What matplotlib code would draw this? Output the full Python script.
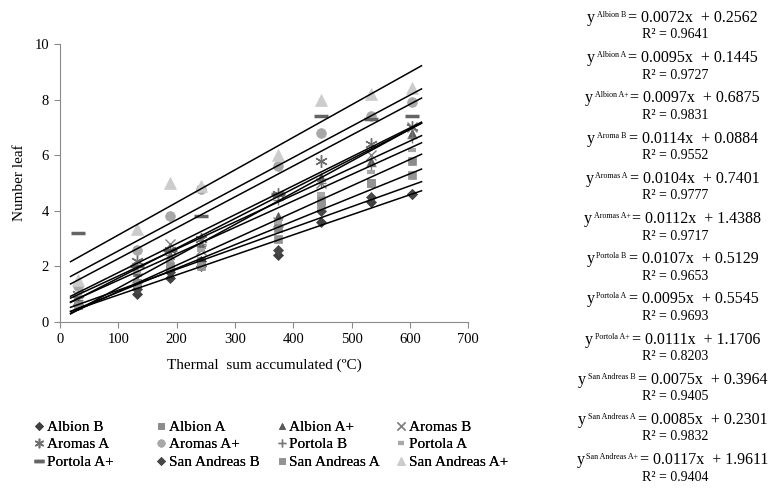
import numpy as np
import matplotlib
matplotlib.use("Agg")
import matplotlib.pyplot as plt

plt.rcParams['font.family'] = ['Liberation Serif', 'DejaVu Serif']

# thermal sum at each sampling date
x_pts = [30, 132, 189, 241, 373, 447, 533, 604]

names = ["Albion B", "Albion A", "Albion A+", "Aromas B", "Aromas A", "Aromas A+",
         "Portola B", "Portola A", "Portola A+", "San Andreas B", "San Andreas A",
         "San Andreas A+"]
# superscripts as printed in the equations
eq_names = ["Albion B", "Albion A", "Albion A+", "Aroma B", "Aromas A", "Aromas A+",
            "Portola B", "Portola A", "Portola A+", "San Andreas B", "San Andreas A",
            "San Andreas A+"]

albion_b = [0.6, 1.0, 1.6, 2.0, 2.4, 3.6, 4.3, 4.6]
albion_a = [0.6, 1.4, 1.9, 2.2, 3.4, 4.4, 5.0, 5.8]
albion_ap = [1.0, 1.8, 2.4, 2.8, 3.8, 5.2, 5.8, 6.8]
aromas_b = [0.8, 1.6, 2.8, 2.6, 3.6, 5.0, 6.0, 7.0]
aromas_a = [1.0, 2.2, 2.6, 3.0, 4.6, 5.8, 6.4, 7.0]
aromas_ap = [1.3, 2.6, 3.8, 4.8, 5.6, 6.8, 7.4, 7.9]
portola_b = [0.8, 2.0, 2.4, 2.8, 4.4, 5.0, 5.6, 6.6]
portola_a = [1.0, 1.8, 2.2, 2.6, 3.6, 4.6, 5.4, 6.2]
portola_ap = [3.2, 2.0, 2.6, 3.8, 4.6, 7.4, 7.3, 7.4]
sanandreas_b = [0.6, 1.2, 1.8, 2.2, 2.6, 4.0, 4.5, 4.6]
sanandreas_a = [0.6, 1.4, 2.0, 2.0, 3.0, 4.2, 5.0, 5.3]
sanandreas_ap = [1.5, 3.35, 5.0, 4.9, 6.0, 8.0, 8.2, 8.4]

series = [albion_b, albion_a, albion_ap, aromas_b, aromas_a, aromas_ap,
          portola_b, portola_a, portola_ap, sanandreas_b, sanandreas_a, sanandreas_ap]

# fitted equations shown on the right
slopes = [0.0072, 0.0095, 0.0097, 0.0114, 0.0104, 0.0112,
          0.0107, 0.0095, 0.0111, 0.0075, 0.0085, 0.0117]
intercepts = [0.2562, 0.1445, 0.6875, 0.0884, 0.7401, 1.4388,
              0.5129, 0.5545, 1.1706, 0.3964, 0.2301, 1.9611]
r2 = ["0.9641", "0.9727", "0.9831", "0.9552", "0.9777", "0.9717",
      "0.9653", "0.9693", "0.8203", "0.9405", "0.9832", "0.9404"]

styles = [
    dict(marker="D", color="#3f3f3f", ms=5),
    dict(marker="s", color="#8c8c8c", ms=6),
    dict(marker="^", color="#5a5a5a", ms=6),
    dict(marker="x", color="#7f7f7f", ms=7, mew=1),
    dict(marker=(6, 2, 0), color="#6e6e6e", ms=9, mew=1),
    dict(marker="o", color="#a8a8a8", ms=7),
    dict(marker="+", color="#7a7a7a", ms=7, mew=1),
    dict(marker="_", color="#a8a8a8", ms=6, mew=3),
    dict(marker="_", color="#646464", ms=10, mew=2.5),
    dict(marker="D", color="#474747", ms=5),
    dict(marker="s", color="#939393", ms=6),
    dict(marker="^", color="#cccccc", ms=8),
]

fig = plt.figure(figsize=(7.7, 4.88), dpi=100)
ax = fig.add_axes([0.078, 0.340, 0.530, 0.570])

handles = []
for vals, st, nm in zip(series, styles, names):
    h, = ax.plot(x_pts, vals, linestyle="none", marker=st["marker"], color=st["color"],
                 markersize=st["ms"], markeredgewidth=st.get("mew", 0.5), label=nm)
    handles.append(h)

xl = np.array([18, 620])
for m, b in zip(slopes, intercepts):
    ax.plot(xl, m * xl + b, color="black", lw=1.1)

ax.set_xlim(0, 700)
ax.set_ylim(0, 10)
ax.set_xticks(range(0, 701, 100))
ax.set_yticks(range(0, 11, 2))
for s in ["top", "right"]:
    ax.spines[s].set_visible(False)
for s in ["left", "bottom"]:
    ax.spines[s].set_color("#8a8a8a")
ax.tick_params(direction="out", length=4, color="#8a8a8a", labelsize=10.5, pad=4)
ax.set_xlabel("Thermal  sum accumulated (ºC)", fontsize=11, labelpad=9)
ax.set_ylabel("Number leaf", fontsize=11, labelpad=6)

# legend: four columns, three rows (row-major order)
col_x = [0.045, 0.203, 0.360, 0.515]
for c in range(4):
    hs = [handles[c + 4 * r] for r in range(3)]
    lg = fig.legend(handles=hs, labels=[h.get_label() for h in hs], loc="upper left",
                    bbox_to_anchor=(col_x[c], 0.139), frameon=False,
                    fontsize=11, handlelength=0.6, handletextpad=0.2,
                    labelspacing=0.25, borderaxespad=0, borderpad=0,
                    markerscale=0.75)
    fig.add_artist(lg)

# equations on the right: "y" + small superscript + "= ax + b", then R²
W, H = 770, 488
renderer = fig.canvas.get_renderer()
for i in range(12):
    yy = 18 + i * 40.2
    base = H - yy - 4  # baseline in pixels
    parts = [("y", 11.5, 0), (eq_names[i], 5.8, 5),
             (f"= {slopes[i]:.4f}x  + {intercepts[i]:.4f}", 11.5, 0)]
    txts = []
    widths = []
    for s, fs, dy in parts:
        t = fig.text(0, 0, s, fontsize=fs, va="baseline", ha="left")
        widths.append(t.get_window_extent(renderer).width)
        txts.append((t, dy))
    total = sum(widths) + 3
    x0 = 672 - total / 2
    for k, (t, dy) in enumerate(txts):
        t.set_position((x0 / W, (base + dy) / H))
        x0 += widths[k] + (2 if k < 2 else 0)
    fig.text(675 / W, 1 - (yy + 17) / H, f"R² = {r2[i]}",
             ha="center", va="center", fontsize=10)

fig.savefig("out.png", dpi=100)
